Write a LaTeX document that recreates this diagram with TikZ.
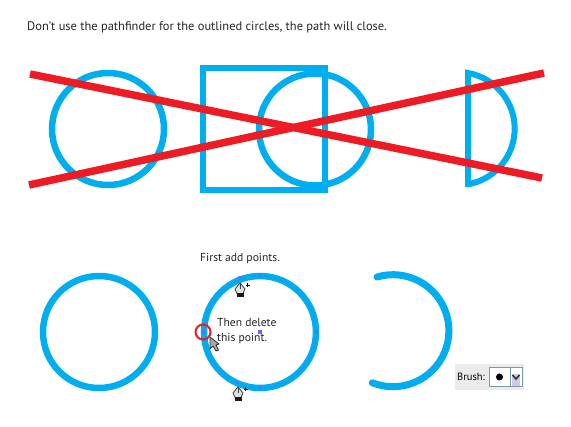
\documentclass[tikz,border=0pt]{standalone}
\usepackage{fontspec}
\setmainfont{PT Sans}
\usepackage{xcolor}
\definecolor{ringblue}{RGB}{0,174,239}
\definecolor{crossred}{RGB}{237,28,36}
\definecolor{pointblue}{RGB}{90,110,240}
\definecolor{panelgray}{RGB}{235,235,235}
\definecolor{boxedge}{RGB}{125,150,175}
\definecolor{dropfill}{RGB}{205,205,225}
\tikzset{
	ring/.style={draw=ringblue,line width=6.5pt},
	cross/.style={draw=crossred,line width=7.5pt},
	caption/.style={inner sep=0pt,anchor=west,text=black!85,font=\fontsize{11.6}{14.5}\selectfont,align=left},
	pentool/.pic={
		\draw[black!75,fill=black!12,line width=.8pt] (0,-7) -- (-5,-1) -- (-3,3.5) -- (3,3.5) -- (5,-1) -- cycle;
		\draw[black!75,line width=.6pt] (0,-7) -- (0,-1);
		\fill[black!90] (-3.5,3.5) rectangle (3.5,7.5);
		\draw[black,line width=.9pt] (5.5,-5) -- (10,-5) (7.75,-7.25) -- (7.75,-2.75);
	}
}
\begin{document}
\begin{tikzpicture}[x=1pt,y=-1pt]
	\useasboundingbox (0,0) rectangle (571,427);
	\node[caption,font=\fontsize{12.45}{14}\selectfont] (warning) at (27,27) {Don’t use the pathfinder for the outlined circles, the path will close.};
	% top row
	\draw[ring] (108,129) circle (56);
	\draw[ring,line width=6pt] (203,68) rectangle (325,190);
	\draw[ring] (315,129.5) circle (56);
	\draw[ring,line width=6pt,line join=miter] (468,187) -- (468,73) arc (-80:80:56.5) -- cycle;
	\draw[cross] (30,74) -- (542,178);
	\draw[cross] (29,185) -- (544,73);
	% bottom row
	\draw[ring] (99,332) circle (56);
	\draw[ring] (260,332) circle (56);
	\draw[ring,line width=7pt,line cap=round] (377,277) arc (-106.5:111.6:56);
	\draw[pointblue,opacity=.4,line width=.5pt] (260,332) circle (56);
	\foreach \px/\py in {260/276,316/332,260/388,203/332,239/278,237/383}
		\fill[pointblue,opacity=.7] (\px-1.5,\py-1.5) rectangle (\px+1.5,\py+1.5);
	\fill[pointblue] (258,330) rectangle (262,334);
	\draw[crossred,line width=2pt] (203,332) circle (7.5);
	\node[caption] (first) at (200,259) {First add points.};
	\node[caption] (delete) at (217,331) {Then delete\\this point.};
	\pic at (240,290) {pentool};
	\pic at (238,394) {pentool};
	\draw[black!80,fill=black!35,line width=.8pt,line join=round] (210,337) -- (210,349) -- (213,346) -- (216,351) -- (218.5,350) -- (216,345) -- (219,344) -- cycle;
	% brush panel
	\fill[panelgray] (455,364) rectangle (524,390);
	\node[caption,text=black,font=\fontsize{10.5}{12}\selectfont] (brush) at (457,377) {Brush:};
	\draw[boxedge,fill=white,line width=1pt] (489.5,367.5) rectangle (510,387);
	\draw[boxedge,fill=white,line width=1pt] (510,367.5) rectangle (522,387);
	\fill[dropfill] (512,374) rectangle (520,386);
	\fill[black] (499.5,377) circle (3.5);
	\draw[black!80,line width=1.6pt] (512.5,375) -- (516,379) -- (519.5,375);
\end{tikzpicture}
\end{document}
